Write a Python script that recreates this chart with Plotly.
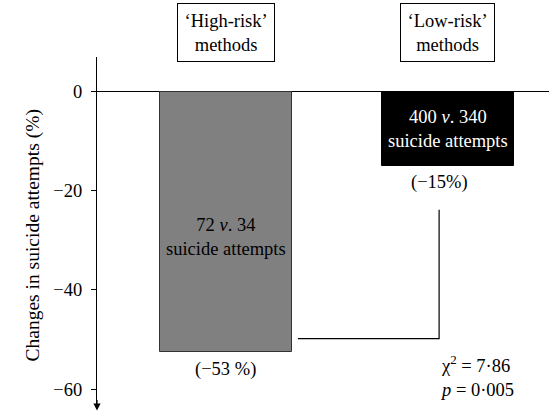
import plotly.graph_objects as go

# ---- data ----
categories = [1, 2]                       # bar positions (High-risk, Low-risk)
changes = [-52.5, -15.0]                  # % change in suicide attempts
bar_colors = ["#808080", "#000000"]
header_labels = ["‘High-risk’<br>methods", "‘Low-risk’<br>methods"]
count_labels = ["72 <i>v</i>. 34<br>suicide attempts", "400 <i>v</i>. 340<br>suicide attempts"]
count_label_y = [-29.4, -7.5]
count_label_colors = ["#000000", "#ffffff"]
pct_labels = ["(−53 %)", "(−15%)"]
pct_label_y = [-56.0, -18.3]
tick_vals = [0, -20, -40, -60]
tick_text = ["0", "−20", "−40", "−60"]
bracket_x = [1.324, 1.96, 1.96]
bracket_y = [-49.8, -49.8, -23.8]
stats_text = "χ<sup>2</sup> = 7·86<br><i>p</i> = 0·005"

FONT = "Liberation Serif, Times New Roman, serif"
FS = 18.5

fig = go.Figure()
fig.add_trace(go.Bar(
    x=categories, y=changes, width=0.595,
    marker=dict(color=bar_colors, line=dict(color=["#333333", "#000000"], width=1)),
    showlegend=False, hoverinfo="skip",
))
fig.add_trace(go.Scatter(
    x=bracket_x, y=bracket_y, mode="lines",
    line=dict(color="black", width=1.2), showlegend=False, hoverinfo="skip",
))

ann = []
for i, c in enumerate(categories):
    ann.append(dict(x=c, y=1.071, xref="x", yref="paper", text=header_labels[i], showarrow=False,
                    font=dict(family=FONT, size=FS, color="black"),
                    bordercolor="black", borderwidth=1, borderpad=6.5, bgcolor="white",
                    xanchor="center", yanchor="middle"))
    ann.append(dict(x=c, y=count_label_y[i], xref="x", yref="y", text=count_labels[i], showarrow=False,
                    font=dict(family=FONT, size=FS, color=count_label_colors[i]),
                    xanchor="center", yanchor="middle"))
    ann.append(dict(x=c if i == 0 else c - 0.04, y=pct_label_y[i], xref="x", yref="y", text=pct_labels[i],
                    showarrow=False, font=dict(family=FONT, size=FS, color="black"),
                    xanchor="center", yanchor="middle"))
ann.append(dict(x=1.955, y=-57.3, xref="x", yref="y", text=stats_text, showarrow=False,
                font=dict(family=FONT, size=FS, color="black"), align="left",
                xanchor="left", yanchor="middle"))
# axis title
ann.append(dict(x=-0.1416, y=-29, xref="paper", yref="y", text="Changes in suicide attempts (%)",
                textangle=-90, showarrow=False, font=dict(family=FONT, size=19.5, color="black"),
                xanchor="center", yanchor="middle"))
# arrow at bottom of y axis
ann.append(dict(x=0, y=-0.019, xref="paper", yref="paper", ax=0, ay=-12, text="", showarrow=True,
                arrowhead=2, arrowsize=1.2, arrowwidth=1.2, arrowcolor="black"))

fig.update_layout(
    width=553, height=415,
    margin=dict(l=97, r=4, t=57, b=10.5),
    paper_bgcolor="white", plot_bgcolor="white",
    font=dict(family=FONT, size=FS, color="black"),
    xaxis=dict(range=[0.419, 2.455], visible=False, showgrid=False, zeroline=False),
    yaxis=dict(range=[-63, 7], showgrid=False, zeroline=True, zerolinecolor="black", zerolinewidth=1,
               showline=True, linecolor="black", linewidth=1.2,
               ticks="outside", ticklen=5, tickcolor="black", tickwidth=1, ticklabelstandoff=5,
               tickvals=tick_vals, ticktext=tick_text, tickfont=dict(family=FONT, size=FS)),
    annotations=ann,
    bargap=0,
)

fig.write_html("out.html", config={"displayModeBar": False},
               post_script="document.body.style.margin='0px';document.body.style.padding='0px';")
